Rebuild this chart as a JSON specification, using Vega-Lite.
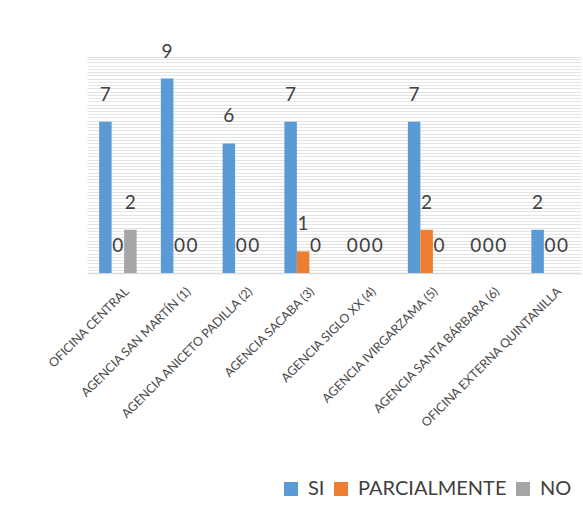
{
  "$schema": "https://vega.github.io/schema/vega-lite/v6.json",
  "autosize": "none",
  "width": 494,
  "height": 216,
  "padding": {"left": 87, "top": 57, "right": 2, "bottom": 243},
  "background": "white",
  "config": {
    "view": {"stroke": null},
    "font": "Lato"
  },
  "data": {
    "values": [
      {"cat": "OFICINA CENTRAL", "serie": "SI", "valor": 7},
      {"cat": "OFICINA CENTRAL", "serie": "PARCIALMENTE", "valor": 0},
      {"cat": "OFICINA CENTRAL", "serie": "NO", "valor": 2},
      {"cat": "AGENCIA SAN MARTÍN (1)", "serie": "SI", "valor": 9},
      {"cat": "AGENCIA SAN MARTÍN (1)", "serie": "PARCIALMENTE", "valor": 0},
      {"cat": "AGENCIA SAN MARTÍN (1)", "serie": "NO", "valor": 0},
      {"cat": "AGENCIA ANICETO PADILLA (2)", "serie": "SI", "valor": 6},
      {"cat": "AGENCIA ANICETO PADILLA (2)", "serie": "PARCIALMENTE", "valor": 0},
      {"cat": "AGENCIA ANICETO PADILLA (2)", "serie": "NO", "valor": 0},
      {"cat": "AGENCIA SACABA (3)", "serie": "SI", "valor": 7},
      {"cat": "AGENCIA SACABA (3)", "serie": "PARCIALMENTE", "valor": 1},
      {"cat": "AGENCIA SACABA (3)", "serie": "NO", "valor": 0},
      {"cat": "AGENCIA SIGLO XX (4)", "serie": "SI", "valor": 0},
      {"cat": "AGENCIA SIGLO XX (4)", "serie": "PARCIALMENTE", "valor": 0},
      {"cat": "AGENCIA SIGLO XX (4)", "serie": "NO", "valor": 0},
      {"cat": "AGENCIA IVIRGARZAMA (5)", "serie": "SI", "valor": 7},
      {"cat": "AGENCIA IVIRGARZAMA (5)", "serie": "PARCIALMENTE", "valor": 2},
      {"cat": "AGENCIA IVIRGARZAMA (5)", "serie": "NO", "valor": 0},
      {"cat": "AGENCIA SANTA BÁRBARA (6)", "serie": "SI", "valor": 0},
      {"cat": "AGENCIA SANTA BÁRBARA (6)", "serie": "PARCIALMENTE", "valor": 0},
      {"cat": "AGENCIA SANTA BÁRBARA (6)", "serie": "NO", "valor": 0},
      {"cat": "OFICINA EXTERNA QUINTANILLA", "serie": "SI", "valor": 2},
      {"cat": "OFICINA EXTERNA QUINTANILLA", "serie": "PARCIALMENTE", "valor": 0},
      {"cat": "OFICINA EXTERNA QUINTANILLA", "serie": "NO", "valor": 0}
    ]
  },
  "encoding": {
    "x": {
      "field": "cat",
      "type": "nominal",
      "sort": null,
      "scale": {"paddingInner": 0, "paddingOuter": 0},
      "axis": {
        "title": null,
        "labelAngle": -45,
        "labelAlign": "right",
        "labelBaseline": "middle",
        "labelFontSize": 12.4,
        "labelColor": "#4a4a4a",
        "labelPadding": 16,
        "labelOffset": 9,
        "labelOverlap": false,
        "labelLimit": 300,
        "ticks": false,
        "domainColor": "#d9d9d9",
        "domainWidth": 1.5,
        "grid": false
      }
    },
    "xOffset": {
      "field": "serie",
      "type": "nominal",
      "sort": ["SI", "PARCIALMENTE", "NO"],
      "scale": {"paddingInner": 0, "paddingOuter": 0.97}
    },
    "y": {
      "field": "valor",
      "type": "quantitative",
      "scale": {"domain": [0, 10], "nice": false},
      "axis": {
        "title": null,
        "labels": false,
        "ticks": false,
        "domain": false,
        "grid": true,
        "gridColor": "#e4e4e4",
        "gridWidth": 1,
        "values": [0.15,0.3,0.45,0.6,0.75,0.9,1.05,1.2,1.35,1.5,1.65,1.8,1.95,2.1,2.25,2.4,2.55,2.7,2.85,3,3.15,3.3,3.45,3.6,3.75,3.9,4.05,4.2,4.35,4.5,4.65,4.8,4.95,5.1,5.25,5.4,5.55,5.7,5.85,6,6.15,6.3,6.45,6.6,6.75,6.9,7.05,7.2,7.35,7.5,7.65,7.8,7.95,8.1,8.25,8.4,8.55,8.7,8.85,9,9.15,9.3,9.45,9.6,9.75,9.9,10]
      }
    }
  },
  "layer": [
    {
      "mark": {"type": "bar"},
      "encoding": {
        "color": {
          "field": "serie",
          "type": "nominal",
          "scale": {"domain": ["SI", "PARCIALMENTE", "NO"], "range": ["#5B9BD5", "#ED7D31", "#A5A5A5"]},
          "legend": {
            "title": null,
            "orient": "none",
            "legendX": 194,
            "legendY": 422,
            "direction": "horizontal",
            "symbolType": "square",
            "symbolSize": 196,
            "symbolStrokeWidth": 0,
            "labelFontSize": 20,
            "labelColor": "#404040",
            "labelOffset": 7,
            "columnPadding": 6
          }
        }
      }
    },
    {
      "mark": {"type": "text", "baseline": "alphabetic", "dy": -21, "fontSize": 19, "color": "#404040"},
      "encoding": {
        "text": {"field": "valor", "type": "quantitative"}
      }
    }
  ]
}
